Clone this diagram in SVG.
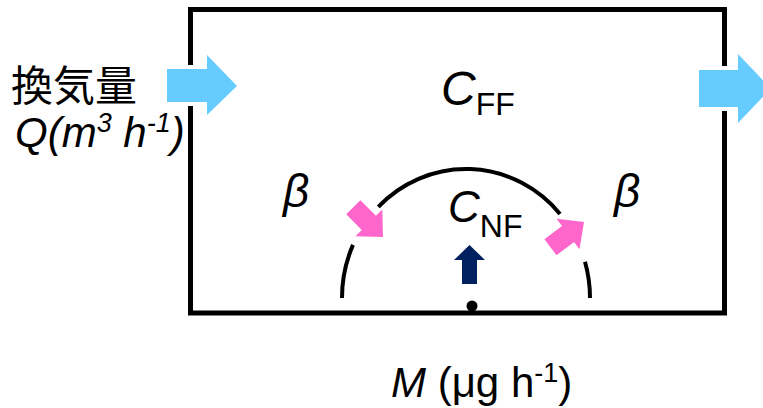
<svg xmlns="http://www.w3.org/2000/svg" width="763" height="408" viewBox="0 0 763 408">
  <style>
    .t { font-family: "Liberation Sans", Arial, "Noto Sans CJK JP", sans-serif; fill: #000; }
    .it { font-style: italic; }
    .arc { fill: none; stroke: #000; stroke-width: 4; }
    .blue { fill: #66CCFF; stroke: #fff; stroke-width: 8; paint-order: stroke; }
    .pink { fill: #FF66CC; }
    .navy { fill: #002060; }
  </style>
  <defs>
    <polygon id="pinkArrow" points="0,-10 22,-10 22,-19 42,0 22,19 22,10 0,10"/>
  </defs>

  <g id="room">
    <rect x="190.5" y="9.5" width="534" height="303.5" fill="#fff" stroke="#000" stroke-width="5"/>
  </g>

  <g id="near-field">
    <path class="arc" d="M342,298 A124,129 0 0 1 353,244.9"/>
    <path class="arc" d="M378.3,206.8 A124,129 0 0 1 560,213.9"/>
    <path class="arc" d="M585,261.8 A124,129 0 0 1 590,298"/>
  </g>

  <g id="connectors">
    <polygon class="blue" points="167,69 207,69 207,55 237,86 207,115 207,102 167,102"/>
    <polygon class="blue" points="699,70 738,70 738,54 771,88.5 738,123 738,107 699,107"/>
    <use href="#pinkArrow" class="pink" transform="translate(383,237) rotate(45) translate(-42,0)"/>
    <use href="#pinkArrow" class="pink" transform="translate(584,222) rotate(-37) translate(-42,0)"/>
    <polygon class="navy" points="469.5,245 485,260 477,260 477,284 462,284 462,260 454,260"/>
  </g>

  <g id="source">
    <circle cx="472" cy="306" r="5.5" fill="#000"/>
  </g>

  <g id="label-ventilation">
    <text class="t" x="11" y="101" font-size="42">換気量</text>
    <text class="t it" x="15" y="147" font-size="42">Q(m<tspan font-size="27" dy="-15">3</tspan><tspan dy="15"> h</tspan><tspan font-size="27" dy="-15">-1</tspan><tspan dy="15">)</tspan></text>
  </g>

  <g id="label-cff">
    <text class="t" x="441" y="105" font-size="48"><tspan class="it">C</tspan><tspan font-size="32" dy="10">FF</tspan></text>
  </g>

  <g id="label-cnf">
    <text class="t" x="448" y="222" font-size="44"><tspan class="it">C</tspan><tspan font-size="32" dy="15">NF</tspan></text>
  </g>

  <g id="label-beta-left">
    <text class="t it" x="283" y="207" font-size="46">β</text>
  </g>
  <g id="label-beta-right">
    <text class="t it" x="614" y="207" font-size="46">β</text>
  </g>

  <g id="label-emission">
    <text class="t" x="391" y="397" font-size="42"><tspan class="it">M</tspan> (μg h<tspan font-size="27" dy="-15">-1</tspan><tspan dy="15">)</tspan></text>
  </g>
</svg>
